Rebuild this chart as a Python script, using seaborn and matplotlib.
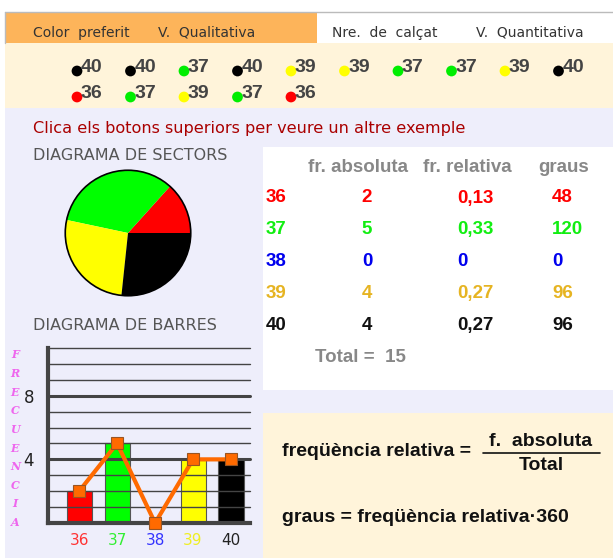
import numpy as np
import pandas as pd
import matplotlib
matplotlib.use("Agg")
import matplotlib.pyplot as plt
from matplotlib.patches import Rectangle, Circle
import seaborn as sns

sample_row1 = [40, 40, 37, 40, 39, 39, 37, 37, 39, 40]
sample_row2 = [36, 37, 39, 37, 36]
sizes = ["36", "37", "38", "39", "40"]
abs_freq = [2, 5, 0, 4, 4]
rel_freq = ["0,13", "0,33", "0", "0,27", "0,27"]
degrees = [48, 120, 0, 96, 96]
total = 15

dot_colors = {36: "#ff0000", 37: "#00ee00", 38: "#0000ff", 39: "#ffff00", 40: "#000000"}
bar_colors = ["#ff0000", "#00ff00", "#0000ff", "#ffff00", "#000000"]
table_colors = ["#ff0000", "#11ee11", "#0000ee", "#e6b422", "#111111"]
label_colors = ["#ff3333", "#33ee33", "#3333ff", "#eeee22", "#222222"]

sns.set_style("white")
plt.rcParams["font.family"] = ["DejaVu Sans"]

W, H = 613, 558
fig = plt.figure(figsize=(W / 100, H / 100), dpi=100)
bg = fig.add_axes([0, 0, 1, 1])

# panels
bg.add_patch(Rectangle((5, 12), 312, 31, color="#fdb45a", lw=0))
bg.add_patch(Rectangle((317, 12), 296, 31, facecolor="white", edgecolor="none"))
bg.plot([5, 613], [12, 12], color="#bbbbbb", lw=1)
bg.plot([5, 5], [12, 43], color="#bbbbbb", lw=1)
bg.add_patch(Rectangle((5, 43), 608, 65, color="#fff4da", lw=0))
bg.add_patch(Rectangle((5, 108), 608, 450, color="#eeeefb", lw=0))
bg.add_patch(Rectangle((263, 147), 350, 243, color="white", lw=0))
bg.add_patch(Rectangle((263, 413), 350, 145, color="#fff4da", lw=0))

tab_font = dict(fontsize=10, color="#333333", va="center")
bg.text(33, 33, "Color  preferit", **tab_font)
bg.text(158, 33, "V.  Qualitativa", **tab_font)
bg.text(332, 33, "Nre.  de  calçat", **tab_font)
bg.text(476, 33, "V.  Quantitativa", **tab_font)

# sample strip
dots = []
for row, vals in enumerate([sample_row1, sample_row2]):
    for i, v in enumerate(vals):
        dots.append({"x": 77 + 53.5 * i, "y": 71 + 26 * row, "v": v})
dots = pd.DataFrame(dots)
sns.scatterplot(data=dots, x="x", y="y", hue="v", palette=dot_colors, s=60,
                linewidth=0, legend=False, ax=bg)
for d in dots.itertuples():
    bg.text(d.x + 4, d.y + 1, str(int(d.v)), fontsize=14, fontweight="bold",
            color="#444444", family="Liberation Sans", va="baseline")
bg.set_xlim(0, W)
bg.set_ylim(H, 0)
bg.axis("off")

bg.text(33, 128, "Clica els botons superiors per veure un altre exemple",
        fontsize=11.6, color="#aa0000", va="center")
bg.text(33, 156, "DIAGRAMA DE SECTORS", fontsize=11.5, color="#555555", va="center")
bg.text(33, 326, "DIAGRAMA DE BARRES", fontsize=11.5, color="#555555", va="center")

# pie
pie_ax = fig.add_axes([(128 - 64) / W, 1 - (233 + 64) / H, 128 / W, 128 / H])
nz = [i for i, f in enumerate(abs_freq) if f > 0]
pie_ax.pie([abs_freq[i] for i in nz], colors=[bar_colors[i] for i in nz],
           startangle=0, counterclock=True, wedgeprops=dict(linewidth=0))
pie_ax.add_patch(Circle((0, 0), 1, fill=False, edgecolor="black", lw=1.2))
pie_ax.set_xlim(-1.02, 1.02)
pie_ax.set_ylim(-1.02, 1.02)

# bar chart
bar_ax = fig.add_axes([48 / W, 1 - 523 / H, (250 - 48) / W, (523 - 348) / H])
bar_df = pd.DataFrame({"size": sizes, "freq": abs_freq})
sns.barplot(data=bar_df, x="size", y="freq", hue="size", palette=bar_colors,
            saturation=1, width=0.66, edgecolor="#555555", linewidth=0.8,
            legend=False, ax=bar_ax)
for k in range(1, 12):
    lw = 2.2 if k in (4, 8) else 1.0
    bar_ax.axhline(k, color="#444444", lw=lw, zorder=3)
sns.lineplot(data=bar_df, x="size", y="freq", color="#ff6a00", lw=3, sort=False,
             marker="s", markersize=9, markerfacecolor="#ff6a00",
             markeredgecolor="#995522", markeredgewidth=0.8, ax=bar_ax, zorder=5)
for ln in bar_ax.lines:
    ln.set_clip_on(False)
bar_ax.set_xlim(-0.82, 4.5)
bar_ax.set_ylim(0, 11)
bar_ax.set_yticks([4, 8])
bar_ax.set_yticklabels(["4", "8"], fontsize=12, color="#222222")
bar_ax.tick_params(axis="y", length=0, pad=10)
bar_ax.tick_params(axis="x", length=0, pad=7)
for lbl, c in zip(bar_ax.get_xticklabels(), label_colors):
    lbl.set_color(c)
    lbl.set_fontsize(11)
bar_ax.set_xlabel("")
bar_ax.set_ylabel("")
bar_ax.set_facecolor("none")
sns.despine(ax=bar_ax)
for s in ("left", "bottom"):
    bar_ax.spines[s].set_linewidth(3)
    bar_ax.spines[s].set_color("#444444")

for i, ch in enumerate("FRECUENCIA"):
    bg.text(15, 355 + 18.6 * i, ch, fontsize=8, color="#ee66ee", style="italic",
            fontweight="bold", family="DejaVu Serif", ha="center", va="center")

# table
tfont = dict(fontsize=13.5, fontweight="bold", family="Liberation Sans", va="center")
bg.text(308, 167, "fr. absoluta", color="#888888", **tfont)
bg.text(423, 167, "fr. relativa", color="#888888", **tfont)
bg.text(538, 167, "graus", color="#888888", **tfont)
for i in range(len(sizes)):
    y = 198 + 31.8 * i
    c = table_colors[i]
    bg.text(266, y, sizes[i], color=c, **tfont)
    bg.text(367, y, str(abs_freq[i]), color=c, ha="center", **tfont)
    bg.text(457, y, rel_freq[i], color=c, **tfont)
    bg.text(552, y, str(degrees[i]), color=c, **tfont)
bg.text(315, 357, f"Total =  {total}", color="#888888", **tfont)

# formulas
ffont = dict(fontsize=14, fontweight="bold", family="Liberation Sans", color="#111111", va="center")
bg.text(282, 452, "freqüència relativa =", **ffont)
bg.text(541, 441, "f.  absoluta", ha="center", **ffont)
bg.plot([483, 600], [453, 453], color="#111111", lw=1.2)
bg.text(541, 465, "Total", ha="center", **ffont)
bg.text(282, 518, "graus = freqüència relativa·360", **ffont)

fig.savefig("out.png", dpi=100)
